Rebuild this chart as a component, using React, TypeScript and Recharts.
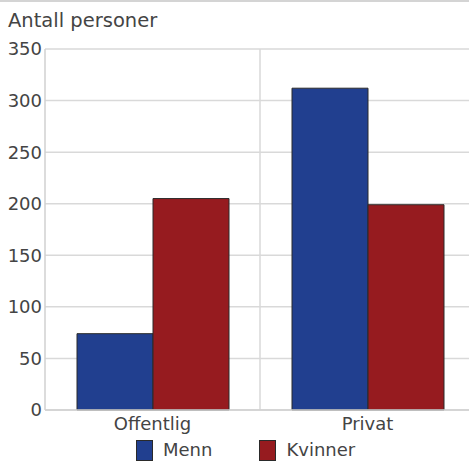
import React from "react";
import {
  BarChart,
  Bar,
  XAxis,
  YAxis,
  CartesianGrid,
  Label,
} from "recharts";

const categories = ["Offentlig", "Privat"];
const menn = [74, 312];
const kvinner = [205, 199];
const seriesNames = ["Menn", "Kvinner"];
const seriesColors = ["#213f8f", "#961b1f"];
const yTicks = [0, 50, 100, 150, 200, 250, 300, 350];

const data = categories.map((c, i) => ({
  name: c,
  Menn: menn[i],
  Kvinner: kvinner[i],
}));

const FONT = "'DejaVu Sans', sans-serif";
const TEXT = "#444";

const App: React.FC = () => {
  return (
    <div
      style={{
        position: "absolute",
        left: 0,
        top: 0,
        width: 469,
        height: 463,
        overflow: "hidden",
        background: "#fff",
        fontFamily: FONT,
        borderTop: "2px solid #d4d4d4",
        boxSizing: "border-box",
      }}
    >
      <div style={{ position: "absolute", left: 0, top: -2 }}>
        <BarChart
          width={480}
          height={463}
          data={data}
          margin={{ top: 49, right: 5, bottom: 23, left: 0 }}
          barCategoryGap={32}
          barGap={0}
        >
          <CartesianGrid
            stroke="#d9d9d9"
            strokeWidth={1.5}
            verticalCoordinatesGenerator={({ offset }: any) => [
              offset.left + offset.width / 2,
            ]}
          />
          <XAxis
            dataKey="name"
            tickLine={false}
            tickSize={0}
            tickMargin={7}
            axisLine={{ stroke: "#d0d0d0", strokeWidth: 1.5 }}
            tick={{ fill: TEXT, fontSize: 18, fontFamily: FONT }}
            height={30}
            interval={0}
          />
          <YAxis
            domain={[0, 350]}
            ticks={yTicks}
            width={45}
            tickLine={false}
            tickSize={0}
            tickMargin={3}
            axisLine={{ stroke: "#d0d0d0", strokeWidth: 1.5 }}
            tick={{ fill: TEXT, fontSize: 18, fontFamily: FONT }}
            interval={0}
          >
            <Label
              content={() => (
                <text x={8} y={27} fill={TEXT} fontSize={19.5} fontFamily={FONT}>
                  Antall personer
                </text>
              )}
            />
          </YAxis>
          <Bar
            dataKey="Menn"
            fill={seriesColors[0]}
            stroke="#2a2a2a"
            strokeWidth={1}
            isAnimationActive={false}
          />
          <Bar
            dataKey="Kvinner"
            fill={seriesColors[1]}
            stroke="#2a2a2a"
            strokeWidth={1}
            isAnimationActive={false}
          />
        </BarChart>
      </div>
      <div
        style={{
          position: "absolute",
          top: 437,
          left: 136,
          display: "flex",
          alignItems: "center",
          fontSize: 18,
          lineHeight: "22px",
          color: TEXT,
        }}
      >
        {seriesNames.map((n, i) => (
          <div
            key={n}
            style={{
              display: "flex",
              alignItems: "center",
              marginRight: i === 0 ? 47 : 0,
            }}
          >
            <span
              style={{
                display: "inline-block",
                width: 17,
                height: 21,
                background: seriesColors[i],
                border: "1px solid #2a2a2a",
                boxSizing: "border-box",
                marginRight: 10,
              }}
            />
            <span>{n}</span>
          </div>
        ))}
      </div>
    </div>
  );
};

export default App;
